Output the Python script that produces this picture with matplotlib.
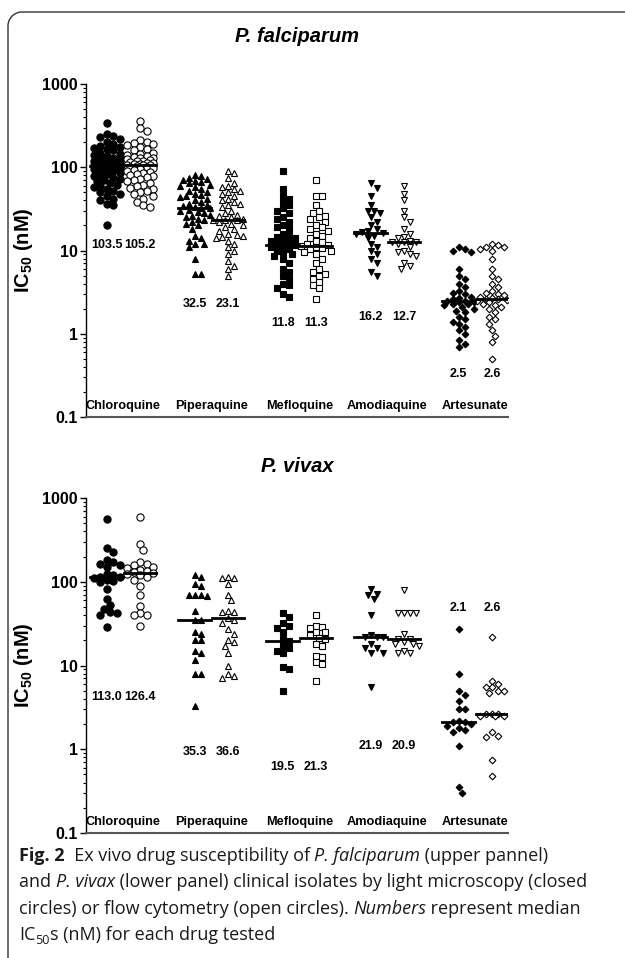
import numpy as np
import matplotlib
matplotlib.use("Agg")
import matplotlib.pyplot as plt

plt.rcParams['font.family'] = ['Liberation Sans', 'DejaVu Sans']

drugs = ["Chloroquine", "Piperaquine", "Mefloquine", "Amodiaquine", "Artesunate"]
markers = ["o", "^", "s", "v", "D"]
msizes = [5.2, 5.0, 4.6, 5.0, 3.4]

# P. falciparum, closed = light microscopy, open = flow cytometry
pf_closed = [
    [340, 250, 240, 230, 220, 200, 190, 180, 175, 170, 165, 160, 150, 145, 140, 135, 130, 128, 125, 120,
     118, 115, 112, 110, 108, 106, 105, 104, 103.5, 103, 102, 100, 98, 96, 94, 92, 90, 88, 85, 82,
     80, 78, 75, 72, 70, 68, 65, 62, 60, 58, 55, 52, 50, 48, 45, 42, 40, 36, 35, 20],
    [80, 78, 75, 72, 70, 68, 66, 64, 62, 60, 58, 55, 52, 50, 48, 46, 45, 44, 42, 40, 38, 36, 35, 34, 33,
     32.5, 32, 31, 30, 29, 28, 27, 26, 25, 24, 23, 22, 21, 20, 18, 15, 14, 13, 12, 12, 11, 8, 5.2, 5.2],
    [90, 55, 45, 42, 38, 35, 32, 30, 28, 25, 24, 22, 20, 19, 18, 16, 15, 14.5, 14, 13.5, 13, 12.5, 12,
     11.8, 11.5, 11, 10.5, 10, 9.5, 9, 8.5, 8, 7, 6, 5.5, 5, 4.5, 4, 3.8, 3.5, 3, 2.8],
    [65, 57, 45, 35, 30, 30, 28, 25, 22, 20, 18, 17, 16.5, 16.2, 16, 15, 14, 12, 11, 10, 9, 8, 7, 5.5, 5],
    [11, 10.5, 10, 9.5, 6, 5, 4.5, 4, 3.6, 3.3, 3.1, 3, 2.8, 2.7, 2.6, 2.5, 2.5, 2.4, 2.4, 2.3, 2.3,
     2.2, 2.1, 2, 1.9, 1.8, 1.6, 1.5, 1.4, 1.3, 1.2, 1.1, 1.0, 0.85, 0.75, 0.7],
]
pf_open = [
    [360, 300, 270, 210, 200, 195, 190, 185, 175, 165, 160, 150, 145, 140, 135, 132, 130, 128, 125, 122,
     120, 118, 116, 114, 112, 110, 108, 106, 105, 105, 104, 102, 100, 98, 95, 92, 90, 88, 85, 82,
     80, 78, 76, 72, 70, 68, 65, 62, 60, 57, 55, 52, 50, 48, 45, 42, 38, 35, 33],
    [90, 85, 75, 65, 60, 58, 55, 52, 50, 48, 45, 42, 40, 38, 36, 35, 33, 30, 28, 27, 26, 25, 24, 23.5,
     23.1, 23, 22, 21, 20, 19, 18, 17, 16, 15.5, 15, 14.5, 14, 13, 12, 11, 10, 9, 7.5, 6.5, 6, 5],
    [70, 45, 45, 35, 30, 28, 26, 25, 24, 22, 20, 19, 18, 17, 16, 15, 14, 13, 12.5, 12, 11.5, 11.3, 11,
     10.8, 10.5, 10, 9.5, 9, 8, 7, 6, 5.5, 5.2, 5, 4.5, 4.2, 3.8, 3.5, 2.6],
    [60, 48, 40, 30, 25, 22, 18, 16, 14.5, 14, 13, 12.8, 12.7, 12.5, 12, 11, 10, 9.5, 9, 8.5, 7, 6.5, 6],
    [12, 11.5, 11, 11, 10.5, 10, 8, 6, 5, 4.5, 4, 3.6, 3.3, 3.1, 3, 2.9, 2.8, 2.7, 2.65, 2.6, 2.55, 2.5,
     2.4, 2.3, 2.2, 2.1, 2, 1.8, 1.6, 1.5, 1.3, 1.1, 0.95, 0.8, 0.5],
]
pf_med_closed = [103.5, 32.5, 11.8, 16.2, 2.5]
pf_med_open = [105.2, 23.1, 11.3, 12.7, 2.6]
pf_label_y = [11.8, 2.3, 1.35, 1.6, 0.33]

# P. vivax
pv_closed = [
    [560, 250, 225, 180, 170, 165, 160, 150, 125, 120, 115, 113, 110, 105, 102, 100, 83, 63, 53, 47,
     44, 42, 40, 29],
    [120, 115, 95, 90, 70, 70, 70, 68, 45, 35.3, 35, 25, 24, 20, 20, 15, 14, 11.5, 8, 8, 3.3],
    [42, 38, 32, 30, 28, 25, 21, 19.5, 17, 16, 15, 14, 9.5, 9.2, 5],
    [82, 72, 70, 62, 40, 23, 22, 22, 21.9, 18, 16, 16, 14, 14, 5.5],
    [27, 8, 5, 4.5, 3.8, 3, 3, 2.2, 2.1, 2.1, 2, 1.9, 1.8, 1.7, 1.6, 1.1, 0.35, 0.3],
]
pv_open = [
    [600, 285, 240, 170, 165, 160, 150, 145, 140, 135, 130, 126.4, 125, 120, 115, 105, 90, 70, 52, 42,
     40, 40, 30],
    [115, 110, 110, 95, 70, 60, 45, 44, 44, 36.6, 35, 32, 27, 24, 20, 19, 17, 14, 10, 8, 7, 7.5],
    [40, 30, 29, 28, 25, 25, 23, 21.3, 21, 18, 17, 13, 12.5, 11, 10.5, 6.5],
    [80, 42, 42, 42, 42, 24, 21, 20.9, 19, 18, 18, 17, 15, 14, 14],
    [22, 6.5, 6, 5.5, 5.5, 5, 5, 4.7, 2.6, 2.6, 2.5, 2.5, 2.5, 2.6, 1.6, 1.45, 1.4, 0.75, 0.48],
]
pv_med_closed = [113.0, 35.3, 19.5, 21.9, 2.1]
pv_med_open = [126.4, 36.6, 21.3, 20.9, 2.6]
pv_label_y = [4.2, 0.92, 0.61, 1.09, 49]

W, H = 625, 958
PX_PER_DEC = 83.0
PX_PER_UNIT = 88.0
OFF = 0.19
MAXOFF = 16.0


def swarm(vals, d):
    # beeswarm in pixel space, spread capped like Prism, returns x offsets in data units
    ys = np.log10(np.asarray(vals, float)) * PX_PER_DEC
    offs = np.zeros(len(ys))
    placed = []
    step = d * 0.5
    cands = [0.0]
    j = 1
    while j * step <= MAXOFF:
        cands += [j * step, -j * step]
        j += 1
    for i in np.argsort(-ys):
        best, bestd = 0.0, -1
        for c in cands:
            md = min([np.hypot(px - c, py - ys[i]) for (px, py) in placed] + [1e9])
            if md >= d:
                best = c
                break
            if md > bestd:
                best, bestd = c, md
        offs[i] = best
        placed.append((best, ys[i]))
    return offs / PX_PER_UNIT


fig = plt.figure(figsize=(W / 100, H / 100), dpi=100)

# frame with rounded top-left corner
bg = fig.add_axes([0, 0, 1, 1])
bg.set_xlim(0, W)
bg.set_ylim(H, 0)
bg.axis("off")
r = 14
th = np.linspace(np.pi / 2, np.pi, 20)
arc_x = 8 + r + r * np.cos(th)
arc_y = 12 + r - r * np.sin(th)
fx = np.concatenate([[8], arc_x[::-1], [W + 5]])
fy = np.concatenate([[H + 5], arc_y[::-1], [12]])
bg.plot(fx, fy, color="#333333", lw=1.0)


def panel(ax, closed, opened, med_c, med_o, lab_y):
    for g in range(len(drugs)):
        for vals, side, filled in ((closed[g], -1, True), (opened[g], 1, False)):
            xc = g + side * OFF
            xs = xc + swarm(vals, 6.5 if markers[g] == "o" else 6.0)
            ax.plot(xs, vals, linestyle="none", marker=markers[g], ms=msizes[g],
                    mfc="black" if filled else "white", mec="black", mew=0.8, zorder=3)
        for side, m in ((-1, med_c[g]), (1, med_o[g])):
            xc = g + side * OFF
            ax.plot([xc - 0.185, xc + 0.185], [m, m], color="black", lw=2.0, zorder=4)
            ax.text(xc, lab_y[g], f"{m:.1f}", ha="center", va="center", fontsize=9,
                    fontweight="bold")
        ax.text(g, 0.135, drugs[g], ha="center", va="center", fontsize=9.2, fontweight="bold")
    ax.set_yscale("log")
    ax.set_ylim(0.1, 1000)
    ax.set_xlim(-0.426, 4.37)
    ax.set_yticks([0.1, 1, 10, 100, 1000])
    ax.set_yticklabels(["0.1", "1", "10", "100", "1000"])
    ax.set_xticks([])
    for s in ("top", "right"):
        ax.spines[s].set_visible(False)
    ax.spines["left"].set_linewidth(1.0)
    ax.spines["bottom"].set_linewidth(1.5)
    ax.spines["bottom"].set_color("#555555")
    ax.tick_params(axis="y", which="major", length=4, width=1, labelsize=11.5, pad=2)
    ax.tick_params(axis="y", which="minor", length=2, width=0.8)
    for t in ax.get_yticklabels():
        t.set_fontweight("bold")
    ax.set_ylabel(r"IC$_{\mathbf{50}}$ (nM)", fontsize=14.5, fontweight="bold")
    ax.yaxis.set_label_coords((35 - 86) / 422, 0.5)
    ax.patch.set_alpha(0)


plt.rcParams['mathtext.fontset'] = 'custom'
plt.rcParams['mathtext.bf'] = 'Liberation Sans:bold'
plt.rcParams['mathtext.rm'] = 'Liberation Sans:bold'

ax1 = fig.add_axes([86 / W, 1 - 417 / H, (508 - 86) / W, (417 - 84) / H])
panel(ax1, pf_closed, pf_open, pf_med_closed, pf_med_open, pf_label_y)
ax2 = fig.add_axes([86 / W, 1 - 833 / H, (508 - 86) / W, (833 - 498) / H])
panel(ax2, pv_closed, pv_open, pv_med_closed, pv_med_open, pv_label_y)

fig.text(297 / W, 1 - 37 / H, "P. falciparum", ha="center", va="center", fontsize=14.5,
         fontweight="bold", style="italic")
fig.text(297 / W, 1 - 467 / H, "P. vivax", ha="center", va="center", fontsize=14.5,
         fontweight="bold", style="italic")

# caption, drawn run by run so the styles can change within a line
renderer = fig.canvas.get_renderer()
cap_size = 13.0
caption = [
    [("Fig. 2", "bold", "normal", 0), ("  Ex vivo drug susceptibility of ", "normal", "normal", 0),
     ("P. falciparum", "normal", "italic", 0), (" (upper pannel)", "normal", "normal", 0)],
    [("and ", "normal", "normal", 0), ("P. vivax", "normal", "italic", 0),
     (" (lower panel) clinical isolates by light microscopy (closed", "normal", "normal", 0)],
    [("circles) or flow cytometry (open circles). ", "normal", "normal", 0),
     ("Numbers", "normal", "italic", 0), (" represent median", "normal", "normal", 0)],
    [("IC", "normal", "normal", 0), ("50", "normal", "normal", 1),
     ("s (nM) for each drug tested", "normal", "normal", 0)],
]


def run_width(txt, size, weight, style):
    t = fig.text(0, 0, "|" + txt + "|", fontsize=size, fontweight=weight, style=style,
                 family="Open Sans")
    t2 = fig.text(0, 0, "||", fontsize=size, fontweight=weight, style=style, family="Open Sans")
    w = t.get_window_extent(renderer).width - t2.get_window_extent(renderer).width
    t.remove()
    t2.remove()
    return w


for i, line in enumerate(caption):
    x = 19.0
    yb = 861 + i * 26.3
    for txt, weight, style, sub in line:
        size = cap_size * (0.7 if sub else 1.0)
        yy = yb + (4 if sub else 0)
        fig.text(x / W, 1 - yy / H, txt, fontsize=size, fontweight=weight, style=style,
                 family="Open Sans", ha="left", va="baseline", color="#1a1a1a")
        x += run_width(txt, size, weight, style)

fig.savefig("out.png", dpi=100)
